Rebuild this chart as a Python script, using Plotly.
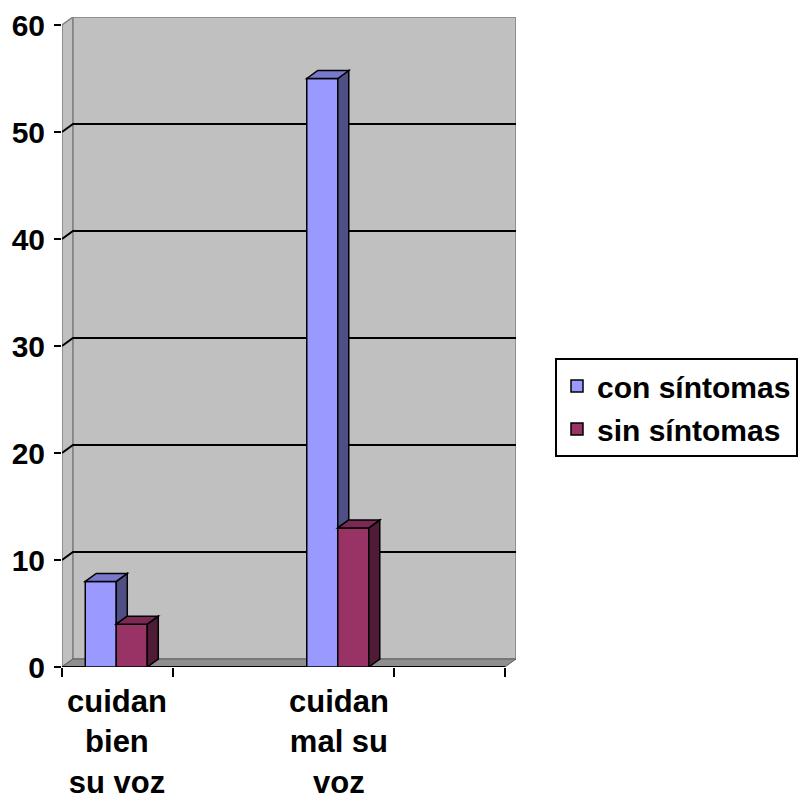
import plotly.graph_objects as go

# ---- data ----
categories = ["cuidan bien su voz", "", "cuidan mal su voz", ""]
category_lines = [["cuidan", "bien", "su voz"], [], ["cuidan", "mal su", "voz"], []]
series_names = ["con síntomas", "sin síntomas"]
con_sintomas = [8, None, 55, None]
sin_sintomas = [4, None, 13, None]
y_ticks = [0, 10, 20, 30, 40, 50, 60]

# ---- style ----
FONT = "Liberation Sans, Arial, sans-serif"
front_colors = ["#9999FF", "#993366"]
side_colors = ["#4F4F85", "#4F1B36"]
top_colors = ["#7878CC", "#7A2952"]
WALL = "#C0C0C0"
WALL_EDGE = "#808080"
FLOOR = "#8E8E8E"

W, H = 798, 802
L, R, T, B = 62, 282, 17, 135
n_cat = len(categories)
px_per_x = (W - L - R - 11) / n_cat          # pixels per category slot
px_per_y = (H - T - B - 8) / max(y_ticks)    # pixels per unit value
DX = 11 / px_per_x                           # depth offset in x units
DY = 8 / px_per_y                            # depth offset in y units
BAR_W = 0.28
x0, x1 = -0.5, n_cat - 0.5
ymax = max(y_ticks)

pos = [i - 0.01 for i in range(n_cat)]
series = [con_sintomas, sin_sintomas]
offsets = [-BAR_W, 0.0]


def poly(pts):
    return "M " + " L ".join(f"{x},{y}" for x, y in pts) + " Z"


shapes = []
# side wall
shapes.append(dict(type="path", xref="x", yref="y", layer="below",
                   path=poly([(x0, 0), (x0 + DX, DY), (x0 + DX, ymax + DY), (x0, ymax)]),
                   fillcolor=WALL, line=dict(color=WALL_EDGE, width=1.5)))
# back wall
shapes.append(dict(type="path", xref="x", yref="y", layer="below",
                   path=poly([(x0 + DX, DY), (x1 + DX, DY), (x1 + DX, ymax + DY), (x0 + DX, ymax + DY)]),
                   fillcolor=WALL, line=dict(color=WALL_EDGE, width=1.5)))
# gridlines on walls
for v in y_ticks[1:-1]:
    shapes.append(dict(type="path", xref="x", yref="y", layer="below",
                       path=f"M {x0},{v} L {x0 + DX},{v + DY} L {x1 + DX},{v + DY}",
                       line=dict(color="black", width=2)))
# floor
shapes.append(dict(type="path", xref="x", yref="y", layer="below",
                   path=poly([(x0, 0), (x0 + DX, DY), (x1 + DX, DY), (x1, 0)]),
                   fillcolor=FLOOR, line=dict(color="#5E5E5E", width=1)))
# category axis line
shapes.append(dict(type="line", xref="x", yref="y", layer="below",
                   x0=x0, x1=x1, y0=0, y1=0, line=dict(color="black", width=2)))

# side and top faces of every column
for s, vals in enumerate(series):
    for i, v in enumerate(vals):
        if v is None:
            continue
        left = pos[i] + offsets[s]
        right = left + BAR_W
        base = 0
        if s + 1 < len(series) and series[s + 1][i] is not None:
            base = min(series[s + 1][i], v)
        shapes.append(dict(type="path", xref="x", yref="y", layer="above",
                           path=poly([(right, base), (right + DX, base + DY),
                                      (right + DX, v + DY), (right, v)]),
                           fillcolor=side_colors[s], line=dict(color="black", width=1.5)))
        shapes.append(dict(type="path", xref="x", yref="y", layer="above",
                           path=poly([(left, v), (left + DX, v + DY),
                                      (right + DX, v + DY), (right, v)]),
                           fillcolor=top_colors[s], line=dict(color="black", width=1.5)))

fig = go.Figure()
for s, vals in enumerate(series):
    fig.add_trace(go.Bar(
        x=pos, y=vals, name=series_names[s], width=BAR_W, offset=offsets[s],
        marker=dict(color=front_colors[s], line=dict(color="black", width=1.5)),
        legendgroup=series_names[s], hoverinfo="skip",
    ))

annotations = []
for i, lines in enumerate(category_lines):
    if not lines:
        continue
    annotations.append(dict(x=i, y=0, xref="x", yref="paper", yanchor="top",
                            xanchor="center", yshift=-15, showarrow=False,
                            text="<br>".join(lines), align="center",
                            font=dict(family=FONT, size=31, color="black", weight="bold")))

fig.update_layout(
    width=W, height=H,
    margin=dict(l=L, r=R, t=T, b=B, autoexpand=False),
    paper_bgcolor="white", plot_bgcolor="rgba(0,0,0,0)",
    barmode="overlay",
    shapes=shapes, annotations=annotations,
    showlegend=True,
    legend=dict(x=(555 - L) / (W - L - R), y=(H - B - 358) / (H - T - B),
                xanchor="left", yanchor="top",
                bordercolor="black", borderwidth=2, bgcolor="white",
                tracegroupgap=1,
                font=dict(family=FONT, size=30, color="black", weight="bold")),
    xaxis=dict(range=[x0, x1 + DX], tickmode="array",
               tickvals=[-0.5, 0.5, 2.5, 3.5], ticktext=["", "", "", ""],
               ticks="outside", ticklen=9, tickwidth=1.5, tickcolor="black",
               showgrid=False, zeroline=False, showline=False, fixedrange=True,
               automargin=False),
    yaxis=dict(range=[0, ymax + DY], tickmode="array", tickvals=y_ticks,
               ticktext=[str(v) for v in y_ticks],
               ticks="outside", ticklen=7, tickwidth=1.5, tickcolor="black",
               ticklabelstandoff=3,
               tickfont=dict(family=FONT, size=30, color="black", weight="bold"),
               showgrid=False, zeroline=False, showline=False, fixedrange=True,
               automargin=False),
)

fig.write_html("out.html")
